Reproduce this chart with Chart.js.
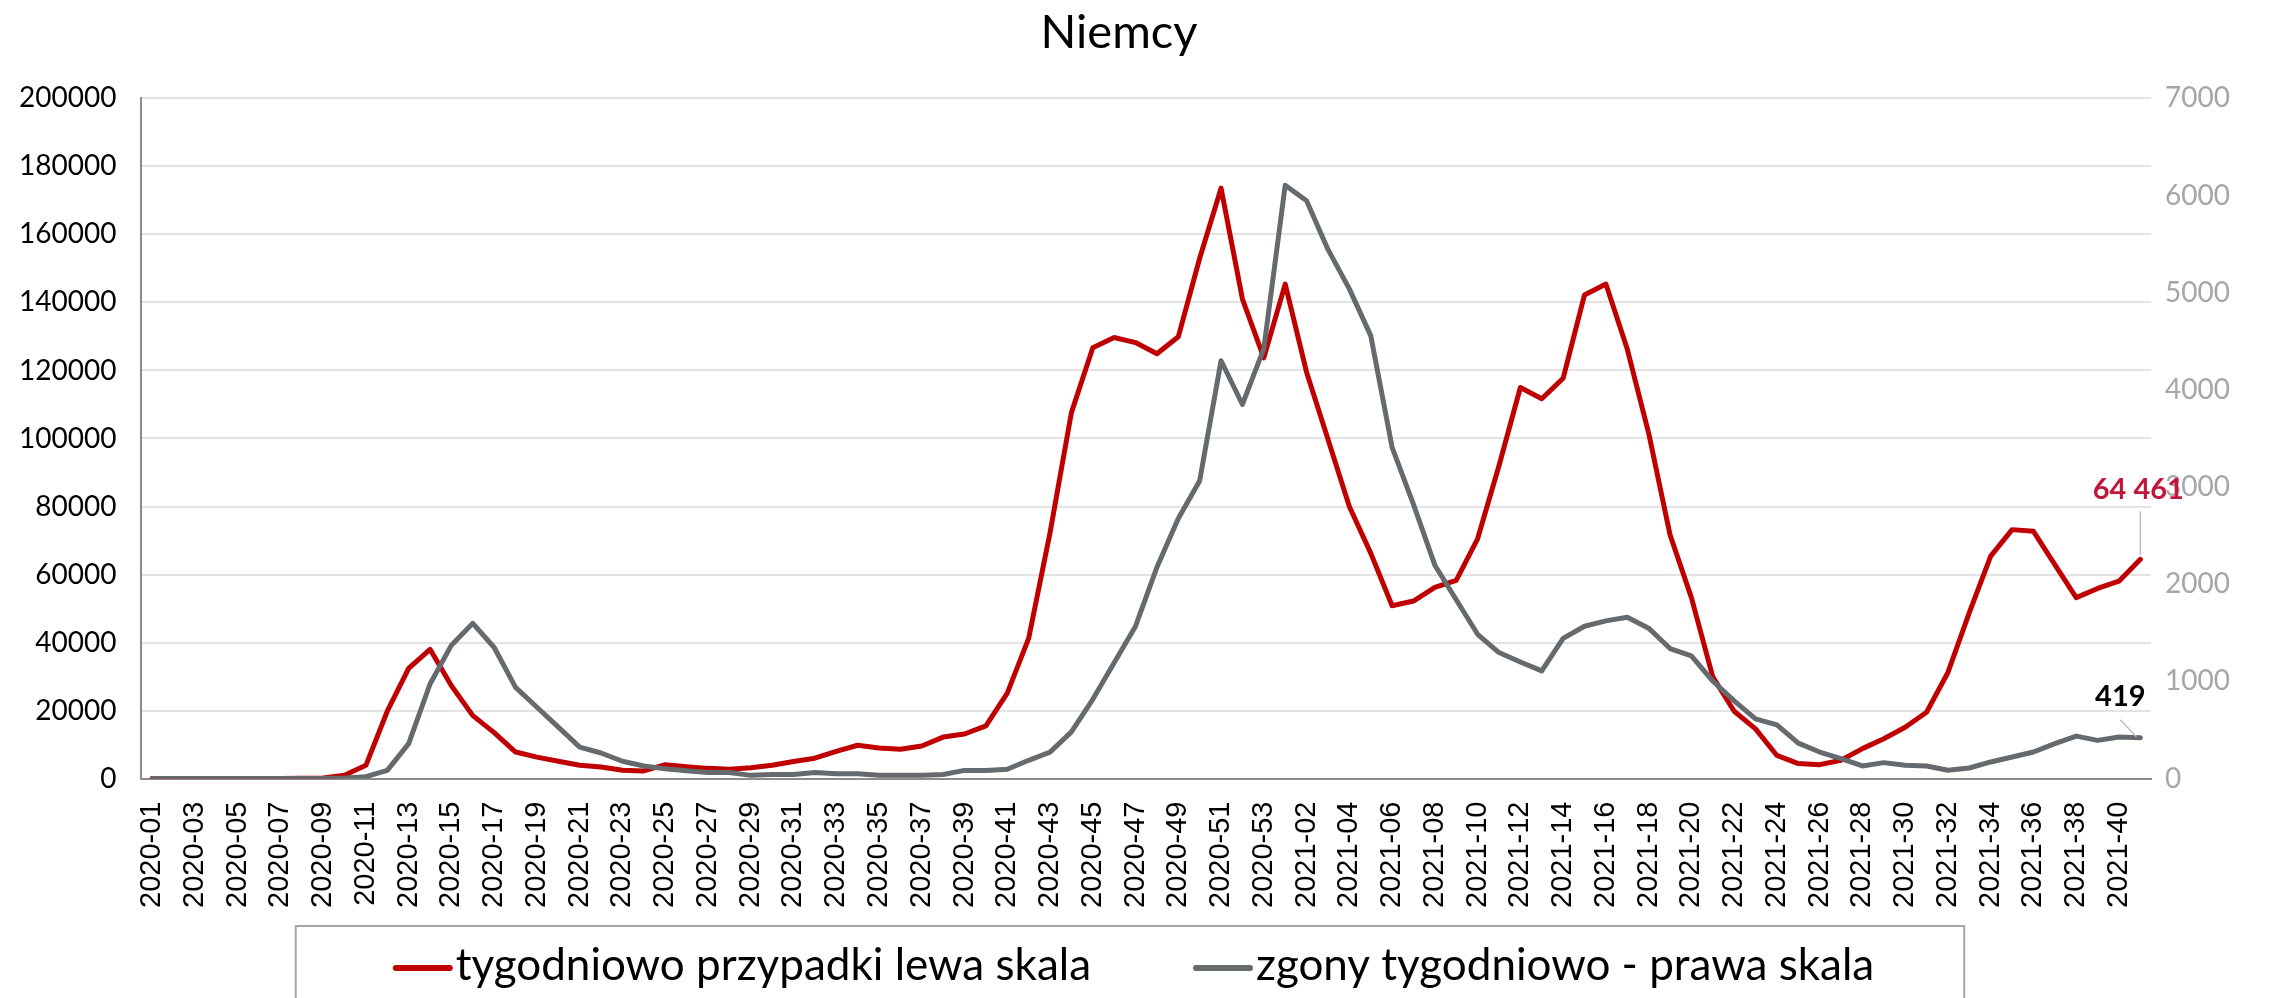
<!DOCTYPE html>
<html>
<head>
<meta charset="utf-8">
<script src="https://cdn.jsdelivr.net/npm/chart.js@4.4.1/dist/chart.umd.min.js"></script>
<style>
  html, body { margin: 0; padding: 0; background: #fff; }
  #wrap { width: 2270px; height: 998px; }
</style>
</head>
<body>
<div id="wrap"><canvas id="myChart" width="2270" height="998"></canvas></div>
<script>
// tygodnie (2020-01 .. 2021-41)
const weeks = [
  '2020-01','2020-02','2020-03','2020-04','2020-05','2020-06','2020-07','2020-08','2020-09','2020-10',
  '2020-11','2020-12','2020-13','2020-14','2020-15','2020-16','2020-17','2020-18','2020-19','2020-20',
  '2020-21','2020-22','2020-23','2020-24','2020-25','2020-26','2020-27','2020-28','2020-29','2020-30',
  '2020-31','2020-32','2020-33','2020-34','2020-35','2020-36','2020-37','2020-38','2020-39','2020-40',
  '2020-41','2020-42','2020-43','2020-44','2020-45','2020-46','2020-47','2020-48','2020-49','2020-50',
  '2020-51','2020-52','2020-53','2021-01','2021-02','2021-03','2021-04','2021-05','2021-06','2021-07',
  '2021-08','2021-09','2021-10','2021-11','2021-12','2021-13','2021-14','2021-15','2021-16','2021-17',
  '2021-18','2021-19','2021-20','2021-21','2021-22','2021-23','2021-24','2021-25','2021-26','2021-27',
  '2021-28','2021-29','2021-30','2021-31','2021-32','2021-33','2021-34','2021-35','2021-36','2021-37',
  '2021-38','2021-39','2021-40','2021-41'
];

// przypadki tygodniowo (lewa skala)
const casesWeekly = [
  0, 0, 0, 0, 5, 10, 20, 60, 200, 1000,
  3900, 19800, 32400, 38000, 27300, 18500, 13500, 7800, 6300, 5100,
  3900, 3400, 2440, 2240, 4100, 3500, 3000, 2750, 3200, 3900,
  5000, 6000, 8000, 9800, 9000, 8600, 9560, 12200, 13100, 15500,
  25100, 41200, 72300, 107600, 126700, 129700, 128200, 124900, 129900, 153000,
  173600, 141000, 123700, 145400, 119500, 99800, 80000, 66300, 50800, 52200,
  56200, 58300, 70500, 92000, 115000, 111700, 117700, 142200, 145400, 126300,
  101600, 71700, 53200, 29900, 19800, 14600, 6800, 4400, 4100, 5400,
  8800, 11700, 15100, 19500, 31200, 48800, 65400, 73200, 72700, 62900,
  53200, 55900, 58050, 64461
];

// zgony tygodniowo (prawa skala)
const deathsWeekly = [
  0, 0, 0, 0, 0, 0, 0, 0, 0, 5,
  20, 85, 359, 973, 1373, 1598, 1349, 939, 734, 529,
  324, 263, 178, 130, 102, 80, 63, 63, 33, 42,
  42, 63, 50, 50, 33, 33, 33, 42, 84, 84,
  96, 188, 272, 481, 816, 1192, 1568, 2175, 2677, 3066,
  4300, 3850, 4425, 6106, 5947, 5446, 5040, 4559, 3409, 2823,
  2196, 1840, 1485, 1297, 1200, 1108, 1443, 1568, 1623, 1660,
  1548, 1338, 1263, 1004, 800, 615, 553, 365, 273, 205,
  130, 164, 137, 130, 85, 109, 171, 222, 273, 359,
  437, 393, 427, 419
];

const leftMax = 200000, leftStep = 20000;
const rightMax = 7000, rightStep = 1000;

const fmt = v => String(v).replace(/\B(?=(\d{3})+(?!\d))/g, ' ');

// legenda w ramce pod wykresem
const legendBox = {
  id: 'legendBox',
  afterDraw(chart) {
    const ctx = chart.ctx;
    const ds = chart.data.datasets;
    ctx.save();
    ctx.font = '44px Lato';
    const lineW = 54, gap = 6, itemGap = 105;
    const widths = ds.map(d => lineW + gap + ctx.measureText(d.label).width);
    const total = widths[0] + itemGap + widths[1];
    let x = chart.width / 2 - total / 2;
    const y = 968;
    ctx.strokeStyle = '#a6a6a6';
    ctx.lineWidth = 2;
    ctx.strokeRect(x - 100, 926, total + 190, 120);
    ds.forEach((d, i) => {
      ctx.strokeStyle = d.borderColor;
      ctx.lineWidth = 6;
      ctx.lineCap = 'round';
      ctx.beginPath();
      ctx.moveTo(x, y);
      ctx.lineTo(x + lineW, y);
      ctx.stroke();
      ctx.fillStyle = '#000';
      ctx.textBaseline = 'middle';
      ctx.fillText(d.label, x + lineW + gap, y - 2);
      x += widths[i] + itemGap;
    });
    ctx.restore();
  }
};

// etykiety ostatnich wartosci
const endLabels = {
  id: 'endLabels',
  afterDatasetsDraw(chart) {
    const ctx = chart.ctx;
    ctx.save();
    ctx.font = 'bold 29px Lato';
    ctx.textAlign = 'center';
    ctx.textBaseline = 'middle';
    ctx.strokeStyle = '#bfbfbf';
    ctx.lineWidth = 1.5;
    chart.data.datasets.forEach((d, i) => {
      const pts = chart.getDatasetMeta(i).data;
      const p = pts[pts.length - 1];
      const v = d.data[d.data.length - 1];
      ctx.beginPath();
      if (d.yAxisID === 'y') {
        ctx.moveTo(p.x, p.y - 4);
        ctx.lineTo(p.x, p.y - 48);
        ctx.stroke();
        ctx.fillStyle = '#c0183c';
        ctx.fillText(fmt(v), p.x - 2, p.y - 70);
      } else {
        ctx.moveTo(p.x - 4, p.y - 1);
        ctx.lineTo(p.x - 20, p.y - 18);
        ctx.stroke();
        ctx.fillStyle = '#000';
        ctx.fillText(fmt(v), p.x - 20, p.y - 41);
      }
    });
    ctx.restore();
  }
};

const ctx = document.getElementById('myChart');

new Chart(ctx, {
  type: 'line',
  data: {
    labels: weeks,
    datasets: [{
      label: 'tygodniowo przypadki lewa skala',
      data: casesWeekly,
      yAxisID: 'y',
      borderColor: '#c00000',
      backgroundColor: '#c00000',
      borderWidth: 5,
      borderJoinStyle: 'round',
      borderCapStyle: 'round',
      pointRadius: 0,
      tension: 0,
      order: 2
    }, {
      label: 'zgony tygodniowo - prawa skala',
      data: deathsWeekly,
      yAxisID: 'y1',
      borderColor: '#646a6d',
      backgroundColor: '#646a6d',
      borderWidth: 5,
      borderJoinStyle: 'round',
      borderCapStyle: 'round',
      pointRadius: 0,
      tension: 0,
      order: 1
    }]
  },
  options: {
    responsive: false,
    animation: false,
    layout: { padding: { left: -6, right: 26, top: 0, bottom: 67 } },
    plugins: {
      legend: { display: false },
      tooltip: { enabled: false },
      title: {
        display: true,
        text: 'Niemcy',
        color: '#000',
        font: { family: 'Lato', size: 47, weight: 'normal' },
        padding: { top: 5, bottom: 37 }
      }
    },
    scales: {
      x: {
        offset: true,
        grid: { display: false, drawTicks: false },
        border: { display: true, color: '#8c8c8c', width: 2 },
        ticks: {
          autoSkip: false,
          maxRotation: 90,
          minRotation: 90,
          padding: 23,
          color: '#000',
          font: { family: 'Liberation Sans', size: 29 },
          callback: function (val, i) { return i % 2 === 0 ? this.getLabelForValue(val) : ''; }
        }
      },
      y: {
        position: 'left',
        min: 0,
        max: leftMax,
        grid: { color: '#e3e3e3', lineWidth: 2, drawTicks: false },
        border: { display: true, color: '#8c8c8c', width: 2 },
        ticks: {
          stepSize: leftStep,
          padding: 25,
          color: '#000',
          font: { family: 'Lato', size: 28 },
          callback: v => String(v)
        }
      },
      y1: {
        position: 'right',
        min: 0,
        max: rightMax,
        grid: { drawOnChartArea: false, drawTicks: false },
        border: { display: false },
        ticks: {
          stepSize: rightStep,
          padding: 14,
          color: '#a6a6a6',
          font: { family: 'Lato', size: 28 },
          callback: v => String(v)
        }
      }
    }
  },
  plugins: [endLabels, legendBox]
});
</script>
</body>
</html>
